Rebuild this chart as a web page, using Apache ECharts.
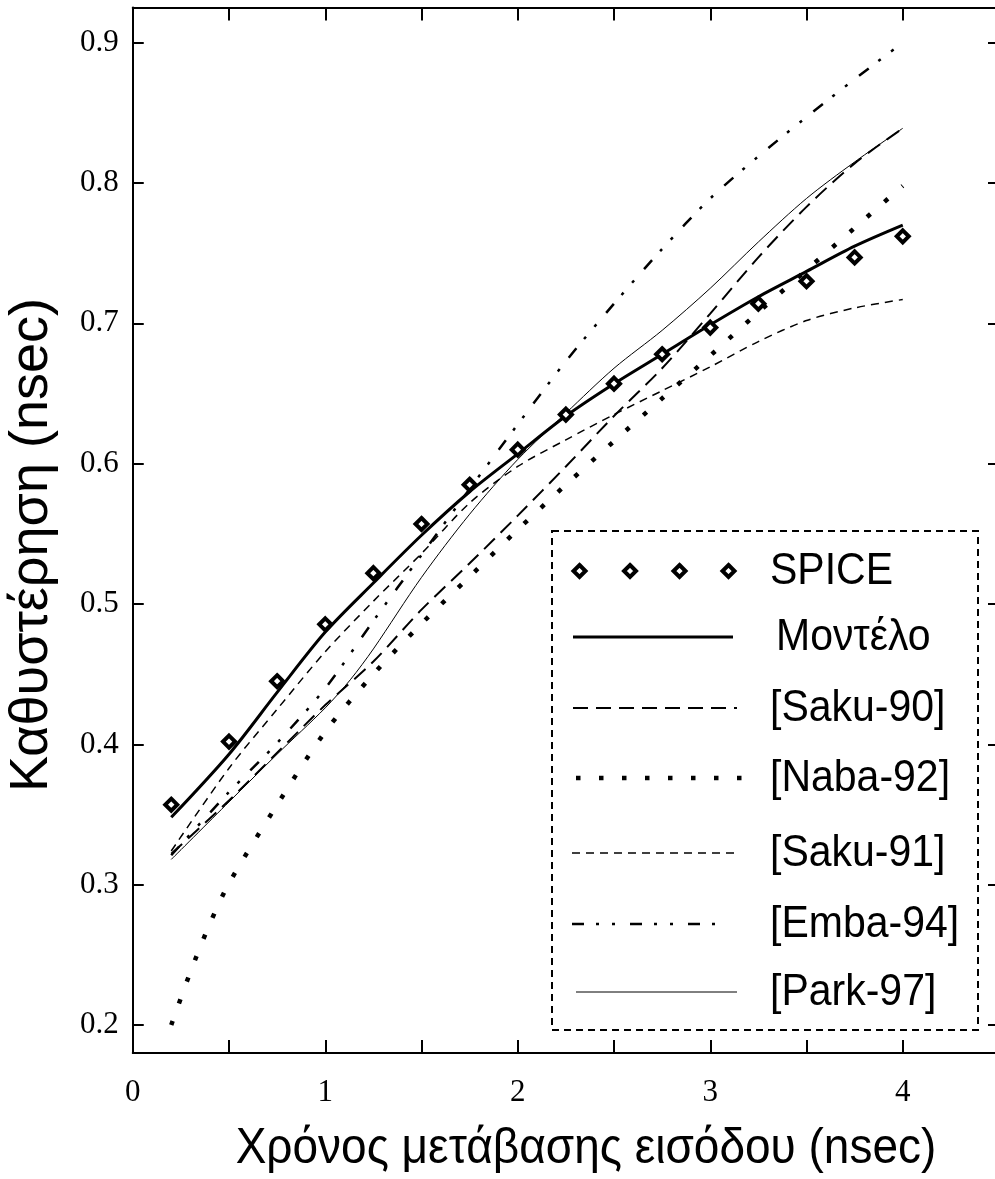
<!DOCTYPE html>
<html>
<head>
<meta charset="utf-8">
<script src="https://cdn.jsdelivr.net/npm/echarts@6/dist/echarts.min.js"></script>
<style>
html,body{margin:0;padding:0;background:#fff;}
#chart{width:995px;height:1179px;}
</style>
</head>
<body>
<div id="chart"></div>
<script>
// ---- data ----
const xGrid = [0.2, 0.5, 0.75, 1, 1.25, 1.5, 1.75, 2, 2.25, 2.5, 2.75, 3, 3.25, 3.5, 3.75, 4];
const spice = [0.357, 0.402, 0.445, 0.4855, 0.522, 0.557, 0.585, 0.610, 0.635, 0.657, 0.678, 0.697, 0.714, 0.730, 0.747, 0.762];
const model = [0.348, 0.393, 0.437, 0.480, 0.515, 0.549, 0.580, 0.607, 0.634, 0.657, 0.678, 0.699, 0.719, 0.737, 0.755, 0.770];
const saku90 = [0.322, 0.360, 0.394, 0.428, 0.459, 0.496, 0.529, 0.563, 0.598, 0.634, 0.668, 0.707, 0.747, 0.783, 0.814, 0.839];
const xNaba = [0.2, 0.3, 0.4, 0.5, 0.75, 1, 1.25, 1.5, 1.75, 2, 2.25, 2.5, 2.75, 3, 3.25, 3.5, 3.75, 4];
const naba92 = [0.200, 0.238, 0.272, 0.301, 0.357, 0.409, 0.450, 0.486, 0.5195, 0.553, 0.585, 0.616, 0.6465, 0.677, 0.708, 0.738, 0.768, 0.798];
const saku91 = [0.324, 0.383, 0.425, 0.466, 0.502, 0.536, 0.572, 0.598, 0.617, 0.635, 0.652, 0.669, 0.687, 0.702, 0.711, 0.717];
const emba94 = [0.321, 0.366, 0.401, 0.440, 0.488, 0.535, 0.582, 0.628, 0.673, 0.714, 0.753, 0.789, 0.819, 0.847, 0.874, 0.900];
const xPark = [0.2, 0.5, 0.75, 1, 1.13, 1.25, 1.5, 1.75, 2, 2.25, 2.5, 2.75, 3, 3.25, 3.5, 3.75, 4];
const park97 = [0.318, 0.359, 0.393, 0.426, 0.446, 0.468, 0.519, 0.564, 0.603, 0.636, 0.668, 0.695, 0.725, 0.758, 0.789, 0.815, 0.839];

const seriesNames = ['SPICE', 'Μοντέλο', '[Saku-90]', '[Naba-92]', '[Saku-91]', '[Emba-94]', '[Park-97]'];
const xTickValues = [0.5, 1, 1.5, 2, 2.5, 3, 3.5, 4];
const xTickLabels = [0, 1, 2, 3, 4];
const yTickLabels = [0.2, 0.3, 0.4, 0.5, 0.6, 0.7, 0.8, 0.9];
const xTitle = 'Χρόνος μετάβασης εισόδου (nsec)';
const yTitle = 'Καθυστέρηση (nsec)';

function pairs(xs, ys) { return xs.map((x, i) => [x, ys[i]]); }

// ---- styles ----
const dashStyles = {
  'Μοντέλο':   { width: 3,   type: 'solid' },
  '[Saku-90]': { width: 2,   type: [15, 8] },
  '[Naba-92]': { width: 4.5, type: [4.5, 18.5] },
  '[Saku-91]': { width: 1.5, type: [8, 6] },
  '[Emba-94]': { width: 2.5, type: [12, 12, 3, 13, 3, 15] },
  '[Park-97]': { width: 1,   type: 'solid' }
};
const lineData = {
  'Μοντέλο': pairs(xGrid, model),
  '[Saku-90]': pairs(xGrid, saku90),
  '[Naba-92]': pairs(xNaba, naba92),
  '[Saku-91]': pairs(xGrid, saku91),
  '[Emba-94]': pairs(xGrid, emba94),
  '[Park-97]': pairs(xPark, park97)
};

const series = [];
seriesNames.slice(1).forEach(name => {
  const st = dashStyles[name];
  series.push({
    name: name, type: 'line', data: lineData[name], smooth: 0.3,
    symbol: 'none', xAxisIndex: 0, yAxisIndex: 0,
    lineStyle: { color: '#000', width: st.width, type: st.type, cap: 'butt' },
    z: 2
  });
});
series.push({
  name: 'SPICE', type: 'scatter', data: pairs(xGrid, spice),
  symbol: 'diamond', symbolSize: 12, xAxisIndex: 0, yAxisIndex: 0,
  itemStyle: { color: '#fff', borderColor: '#000', borderWidth: 4, opacity: 1 }, z: 5
});

// ---- legend drawn as graphic ----
const legRowY = [571, 637, 708, 778, 853, 924, 992];
const legendGraphics = [];
legendGraphics.push({
  type: 'rect', z: 50,
  shape: { x: 552, y: 531, width: 426, height: 499 },
  style: { fill: '#fff', stroke: '#000', lineWidth: 2, lineDash: [7, 5] }
});
[579.5, 630, 679.5, 728.5].forEach(cx => {
  legendGraphics.push({
    type: 'polygon', z: 51,
    shape: { points: [[cx, legRowY[0] - 6], [cx + 6, legRowY[0]], [cx, legRowY[0] + 6], [cx - 6, legRowY[0]]] },
    style: { fill: '#fff', stroke: '#000', lineWidth: 4 }
  });
});
const legLineX = {
  'Μοντέλο': [573, 733], '[Saku-90]': [573, 737], '[Naba-92]': [576, 752],
  '[Saku-91]': [572, 737], '[Emba-94]': [572, 727], '[Park-97]': [576, 737]
};
seriesNames.slice(1).forEach((name, i) => {
  const st = dashStyles[name];
  const y = legRowY[i + 1];
  legendGraphics.push({
    type: 'line', z: 51,
    shape: { x1: legLineX[name][0], y1: y, x2: legLineX[name][1], y2: y },
    style: { stroke: '#000', lineWidth: st.width, lineDash: st.type === 'solid' ? null : st.type, lineCap: 'butt' }
  });
});
seriesNames.forEach((name, i) => {
  legendGraphics.push({
    type: 'text', z: 51, x: (name === 'Μοντέλο' ? 776 : 770), y: legRowY[i] + 1, scaleY: 1.08,
    style: { text: name, fill: '#000', font: '41px "Liberation Sans", Arial, sans-serif', align: 'left', verticalAlign: 'middle' }
  });
});
// axis titles
legendGraphics.push({
  type: 'text', z: 51, x: 586, y: 1149, scaleY: 1.1,
  style: { text: xTitle, fill: '#000', font: '46px "Liberation Sans", Arial, sans-serif', align: 'center', verticalAlign: 'middle' }
});
legendGraphics.push({
  type: 'text', z: 51, x: 32, y: 545, rotation: Math.PI / 2,
  style: { text: yTitle, fill: '#000', font: '54px "Liberation Sans", Arial, sans-serif', align: 'center', verticalAlign: 'middle' }
});

const axisLineStyle = { show: true, onZero: false, lineStyle: { color: '#000', width: 2 } };
const labelFont = { fontFamily: '"Liberation Serif", "Times New Roman", serif', fontSize: 31, color: '#000' };

const option = {
  animation: false,
  backgroundColor: '#fff',
  grid: { left: 132.75, top: 7.6, width: 866.25, height: 1045.5, containLabel: false, outerBoundsMode: 'none' },
  xAxis: [
    {
      type: 'value', position: 'bottom', min: 0, max: 4.5, interval: 0.5,
      axisLine: axisLineStyle,
      axisTick: { show: true, inside: true, length: 13, customValues: xTickValues, lineStyle: { color: '#000', width: 2 } },
      axisLabel: Object.assign({ show: true, margin: 24, customValues: xTickLabels, formatter: v => String(Math.round(v)) }, labelFont),
      splitLine: { show: false }
    },
    {
      type: 'value', position: 'top', min: 0, max: 4.5, interval: 0.5,
      axisLine: axisLineStyle,
      axisTick: { show: true, inside: true, length: 13, customValues: xTickValues, lineStyle: { color: '#000', width: 2 } },
      axisLabel: { show: false },
      splitLine: { show: false }
    }
  ],
  yAxis: [
    {
      type: 'value', position: 'left', min: 0.18, max: 0.925,
      axisLine: axisLineStyle,
      axisTick: { show: true, inside: true, length: 11, customValues: yTickLabels, lineStyle: { color: '#000', width: 2 } },
      axisLabel: Object.assign({ show: true, margin: 14, customValues: yTickLabels, formatter: v => v.toFixed(1) }, labelFont),
      splitLine: { show: false }
    },
    {
      type: 'value', position: 'right', min: 0.18, max: 0.925,
      axisLine: axisLineStyle,
      axisTick: { show: true, inside: true, length: 11, customValues: yTickLabels, lineStyle: { color: '#000', width: 2 } },
      axisLabel: { show: false },
      splitLine: { show: false }
    }
  ],
  series: series,
  graphic: legendGraphics
};

const chart = echarts.init(document.getElementById('chart'), null, { renderer: 'canvas' });
chart.setOption(option);
</script>
</body>
</html>
